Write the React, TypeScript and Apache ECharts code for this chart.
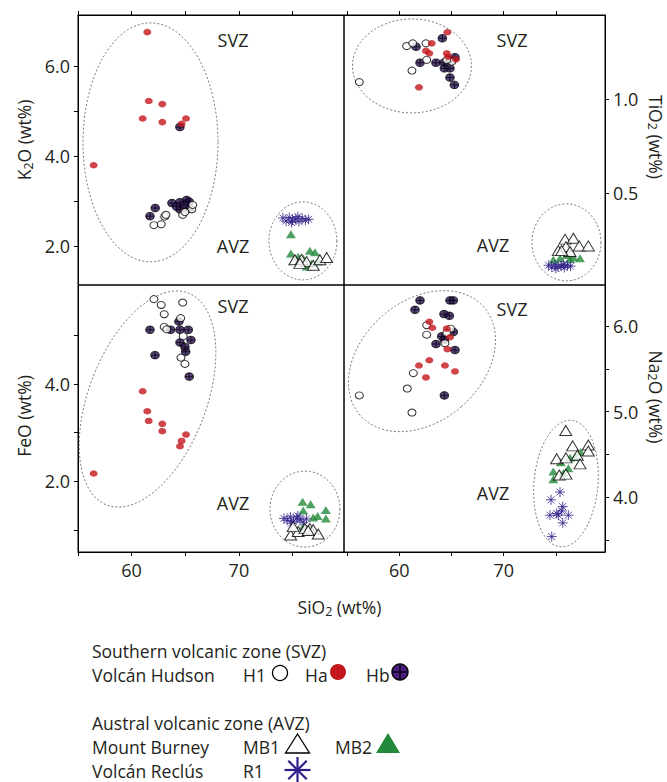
import React, { useEffect, useRef } from 'react';
import * as echarts from 'echarts';

// ---------------- data (SiO2 wt%, oxide wt%) ----------------
// K2O vs SiO2
const k2oH1 = [[62.08, 2.46], [62.76, 2.48], [63.08, 2.65], [63.2, 2.69], [64.76, 2.69], [65.6, 2.81], [64.97, 2.75], [65.69, 2.91]];
const k2oHa = [[61.46, 6.75], [61.6, 5.22], [62.86, 5.15], [61.03, 4.83], [62.86, 4.75], [65.07, 4.83], [64.66, 4.71], [56.46, 3.79]];
const k2oHb = [[64.5, 4.64], [61.71, 2.66], [62.2, 2.84], [63.76, 2.95], [64.5, 2.97], [64.5, 2.81], [65.13, 3.02], [65.37, 2.98], [64.88, 2.91], [65.37, 2.83], [64.2, 2.87]];
const k2oMB1 = [[75.22, 1.69], [75.84, 1.7], [76.31, 1.65], [76.93, 1.57], [77.55, 1.69], [78.18, 1.74], [75.69, 1.61]];
const k2oMB2 = [[74.85, 2.26], [74.85, 1.83], [76.62, 1.89], [77.09, 1.86], [75.53, 1.76], [76.0, 1.72], [76.31, 1.54], [76.78, 1.61], [77.4, 1.65]];
const k2oR1 = [[74.1, 2.62], [74.4, 2.55], [74.7, 2.63], [75.0, 2.57], [75.3, 2.6], [75.6, 2.54], [75.9, 2.61], [76.2, 2.57], [76.5, 2.59], [74.9, 2.52], [75.5, 2.65]];

// TiO2 vs SiO2
const tio2H1 = [[56.17, 1.09], [60.7, 1.282], [61.28, 1.296], [62.55, 1.296], [62.62, 1.208], [61.21, 1.151], [65.02, 1.199], [64.54, 1.208]];
const tio2Ha = [[64.6, 1.355], [63.1, 1.296], [62.55, 1.256], [62.87, 1.243], [64.54, 1.243], [64.69, 1.225], [65.43, 1.211], [61.88, 1.062]];
const tio2Hb = [[61.6, 1.278], [64.12, 1.323], [61.98, 1.193], [63.51, 1.193], [64.28, 1.193], [64.85, 1.208], [65.33, 1.222], [64.31, 1.163], [64.85, 1.163], [64.85, 1.114], [65.27, 1.075]];
const tio2MB1 = [[75.87, 0.254], [76.67, 0.259], [77.24, 0.218], [78.1, 0.218], [75.96, 0.214], [75.23, 0.193], [76.35, 0.188], [75.55, 0.193]];
const tio2MB2 = [[74.75, 0.144], [75.39, 0.153], [76.03, 0.17], [76.67, 0.158], [77.3, 0.153], [76.35, 0.148]];
const tio2R1 = [[74.3, 0.115], [74.6, 0.105], [74.9, 0.118], [75.2, 0.108], [75.5, 0.112], [75.8, 0.103], [76.1, 0.115], [76.4, 0.11], [75.0, 0.098], [75.7, 0.12]];

// FeO vs SiO2
const feoH1 = [[62.08, 5.74], [62.76, 5.62], [64.76, 5.67], [63.04, 5.43], [64.57, 5.35], [63.04, 5.17], [63.27, 5.12], [64.81, 4.98], [64.6, 4.54], [64.97, 4.41]];
const feoHa = [[61.03, 3.85], [61.46, 3.44], [61.59, 3.24], [62.86, 3.18], [62.86, 3.03], [65.07, 2.96], [64.66, 2.83], [64.51, 2.72], [56.46, 2.16]];
const feoHb = [[61.71, 5.11], [63.64, 5.11], [64.41, 5.28], [64.51, 5.11], [65.28, 5.11], [64.51, 4.85], [65.53, 4.9], [64.97, 4.76], [65.04, 4.66], [62.18, 4.59], [65.37, 4.15]];
const feoMB1 = [[74.82, 0.9], [75.53, 0.97], [75.06, 1.07], [76.16, 1.03], [76.62, 1.03], [76.93, 1.01], [77.4, 0.92], [76.46, 0.99]];
const feoMB2 = [[75.94, 1.58], [76.69, 1.53], [76.0, 1.4], [78.11, 1.41], [77.34, 1.29], [78.11, 1.24], [76.93, 1.26], [76.0, 1.07]];
const feoR1 = [[74.2, 1.24], [74.5, 1.2], [74.8, 1.27], [75.1, 1.18], [75.4, 1.25], [75.7, 1.21], [76.0, 1.16], [76.3, 1.23], [74.9, 1.14], [75.5, 1.29]];

// Na2O vs SiO2
const na2oH1 = [[62.62, 6.01], [62.62, 5.9], [64.92, 5.97], [64.54, 5.92], [64.37, 5.8], [61.34, 5.45], [60.76, 5.27], [56.17, 5.19], [61.21, 4.99]];
const na2oHa = [[62.87, 6.05], [63.16, 5.98], [64.54, 5.97], [64.85, 5.87], [64.6, 5.73], [62.87, 5.6], [61.88, 5.54], [64.37, 5.54], [65.33, 5.47], [62.55, 5.4]];
const na2oHb = [[61.98, 6.3], [61.5, 6.19], [64.85, 6.3], [65.17, 6.3], [64.28, 6.14], [64.79, 6.12], [65.17, 5.93], [64.06, 5.88], [64.31, 5.84], [63.51, 5.79], [65.33, 5.72], [64.31, 5.19]];
const na2oMB1 = [[75.94, 4.78], [76.6, 4.6], [78.1, 4.61], [78.1, 4.54], [75.07, 4.45], [75.96, 4.46], [77.05, 4.49], [77.31, 4.39], [75.32, 4.26], [75.96, 4.27]];
const na2oMB2 = [[75.46, 4.41], [76.35, 4.46], [76.83, 4.47], [77.37, 4.53], [74.75, 4.3], [74.75, 4.21], [75.71, 4.28], [76.19, 4.34]];
const na2oR1 = [[75.39, 4.06], [74.53, 3.97], [75.65, 3.89], [75.55, 3.84], [75.07, 3.81], [74.43, 3.79], [76.19, 3.79], [75.65, 3.7], [74.6, 3.54], [75.23, 3.79]];

// zone outlines: [centre SiO2, centre oxide, semi-axis x (px), semi-axis y (px), rotation deg]
const k2oZones = [[61.76, 4.3, 67.5, 119.5, 0], [75.97, 2.11, 34, 39, 0]];
const tio2Zones = [[61.21, 1.176, 59.5, 47, 0], [76.01, 0.237, 34.5, 38.5, 0]];
const feoZones = [[61.48, 3.69, 58.8, 113.6, 21], [76.16, 1.43, 35, 38, 0]];
const na2oZones = [[62.17, 5.59, 60.2, 82.2, 49], [75.96, 4.16, 32, 63.5, 5]];

// axis ticks / labels
const sio2Ticks = [55, 60, 65, 70, 75];
const sio2Labels = [60, 70];
const k2oTicks = [2, 3, 4, 5, 6];
const k2oLabels = [2, 4, 6];
const tio2Ticks = [0.5, 1.0];
const feoTicks = [1, 2, 3, 4, 5];
const feoLabels = [2, 4];
const na2oTicks = [3.5, 4, 4.5, 5, 5.5, 6];
const na2oLabels = [4, 5, 6];

// ---------------- styling ----------------
const FONT = '"Open Sans", Lato, sans-serif';
const INK = '#231f20';
const RED = '#c3161d';
const PURPLE = '#4b1c82';
const HB_FILL = '#2c1358';
const GREEN = '#23893a';
const NAVY = '#2f1f8a';
const HB_PATH = 'path://M0,10A10,10,0,1,1,20,10A10,10,0,1,1,0,10Z M10,0L10,20 M0,10L20,10';
const AST_PATH = 'path://M10,0L10,20M0,10L20,10M3,3L17,17M17,3L3,17';

const styles: Record<string, any> = {
  Hb: { symbol: HB_PATH, symbolSize: [8.5, 7.5], itemStyle: { color: HB_FILL, borderColor: '#000', borderWidth: 0.9 } },
  H1: { symbol: 'circle', symbolSize: [8, 7], itemStyle: { color: '#fff', borderColor: '#000', borderWidth: 1 } },
  Ha: { symbol: 'circle', symbolSize: [8, 6.5], itemStyle: { color: RED, borderWidth: 0 } },
  MB2: { symbol: 'triangle', symbolSize: [10, 8], itemStyle: { color: GREEN, borderWidth: 0 } },
  R1: { symbol: AST_PATH, symbolSize: 10, itemStyle: { color: NAVY, borderColor: NAVY, borderWidth: 1 } },
  MB1: { symbol: 'triangle', symbolSize: [12, 10], itemStyle: { color: '#fff', borderColor: '#000', borderWidth: 1 } },
};

function zoneSeries(idx: number, zones: number[][]) {
  return {
    type: 'custom',
    xAxisIndex: idx,
    yAxisIndex: idx,
    silent: true,
    z: 1,
    dimensions: ['x', 'y', 'rx', 'ry', 'rot'],
    encode: { x: 0, y: 1 },
    data: zones,
    renderItem: (params: any, api: any) => {
      const c = api.coord([api.value(0), api.value(1)]);
      const rx = api.value(2);
      const ry = api.value(3);
      const rot = (api.value(4) * Math.PI) / 180;
      const pts: number[][] = [];
      for (let i = 0; i < 96; i++) {
        const t = (i / 96) * Math.PI * 2;
        const x = rx * Math.cos(t);
        const y = ry * Math.sin(t);
        pts.push([c[0] + x * Math.cos(rot) - y * Math.sin(rot), c[1] + x * Math.sin(rot) + y * Math.cos(rot)]);
      }
      return {
        type: 'polygon',
        shape: { points: pts },
        style: { fill: 'none', stroke: '#7a7a7a', lineWidth: 1, lineDash: [2, 2] },
      };
    },
  };
}

function groupSeries(idx: number, groups: Record<string, number[][]>) {
  const order = ['Hb', 'H1', 'Ha', 'MB2', 'R1', 'MB1'];
  return order.map((k) => ({
    type: 'scatter',
    name: k,
    xAxisIndex: idx,
    yAxisIndex: idx,
    z: 3,
    data: groups[k],
    ...styles[k],
  }));
}

function xAxis(idx: number, min: number, max: number, bottom: boolean) {
  return {
    type: 'value',
    gridIndex: idx,
    min,
    max,
    position: bottom ? 'bottom' : 'top',
    axisLine: { show: true, onZero: false, lineStyle: { color: '#000', width: 1 } },
    axisTick: { show: true, customValues: sio2Ticks, length: 4, inside: false, lineStyle: { color: '#000' } },
    axisLabel: {
      show: bottom,
      customValues: sio2Labels,
      margin: 9,
      fontSize: 18,
      fontFamily: FONT,
      color: INK,
      formatter: (v: number) => String(v),
    },
    splitLine: { show: false },
  };
}

function yAxis(idx: number, min: number, max: number, right: boolean, ticks: number[], labels: number[]) {
  return {
    type: 'value',
    gridIndex: idx,
    min,
    max,
    position: right ? 'right' : 'left',
    axisLine: { show: true, onZero: false, lineStyle: { color: '#000', width: 1 } },
    axisTick: { show: true, customValues: ticks, length: 4, inside: false, lineStyle: { color: '#000' } },
    axisLabel: {
      show: true,
      customValues: labels,
      margin: 8,
      fontSize: 18,
      fontFamily: FONT,
      color: INK,
      formatter: (v: number) => v.toFixed(1),
    },
    splitLine: { show: false },
  };
}

function text(t: string, x: number, y: number, opts: any = {}) {
  return {
    type: 'text',
    x,
    y,
    rotation: opts.rotation || 0,
    silent: true,
    style: {
      text: t,
      fill: INK,
      fontSize: opts.fontSize || 17.5,
      fontFamily: FONT,
      align: opts.align || 'left',
      verticalAlign: 'middle',
      rich: opts.rich,
    },
  };
}

const subRich = {
  n: { fontSize: 17.5, fontFamily: FONT, fill: INK, lineHeight: 21, verticalAlign: 'middle' },
  s: { fontSize: 12.5, fontFamily: FONT, fill: INK, lineHeight: 12, verticalAlign: 'bottom' },
};

function axisTitle(base: string, rest: string, x: number, y: number, rotation: number) {
  return text(`{n|${base}}{s|2}{n|${rest}}`, x, y, { align: 'center', rotation, rich: subRich });
}

function buildOption() {
  const grids = [
    { left: 78, top: 15, width: 266, height: 270 },
    { left: 344, top: 15, width: 261, height: 270 },
    { left: 78, top: 285, width: 266, height: 267 },
    { left: 344, top: 285, width: 261, height: 267 },
  ].map((g) => ({ ...g, show: true, borderColor: '#000', borderWidth: 1, backgroundColor: 'transparent', containLabel: false }));

  const L = 92;
  const legend = [
    text('Southern volcanic zone (SVZ)', L, 651),
    text('Volcán Hudson', L, 675),
    text('H1', 243, 675),
    { type: 'circle', silent: true, shape: { cx: 280, cy: 673, r: 7.5 }, style: { fill: '#fff', stroke: '#000', lineWidth: 1.3 } },
    text('Ha', 305, 675),
    { type: 'circle', silent: true, shape: { cx: 338, cy: 672, r: 8 }, style: { fill: RED, stroke: 'none' } },
    text('Hb', 366, 675),
    { type: 'circle', silent: true, shape: { cx: 400, cy: 672, r: 8 }, style: { fill: PURPLE, stroke: '#000', lineWidth: 1.4 } },
    { type: 'line', silent: true, shape: { x1: 400, y1: 664, x2: 400, y2: 680 }, style: { stroke: '#000', lineWidth: 1.3 } },
    { type: 'line', silent: true, shape: { x1: 392, y1: 672, x2: 408, y2: 672 }, style: { stroke: '#000', lineWidth: 1.3 } },
    text('Austral volcanic zone (AVZ)', L, 723),
    text('Mount Burney', L, 747),
    text('MB1', 243, 747),
    { type: 'polygon', silent: true, shape: { points: [[297.5, 734], [285.5, 753], [309.5, 753]] }, style: { fill: '#fff', stroke: '#000', lineWidth: 1.3 } },
    text('MB2', 335, 747),
    { type: 'polygon', silent: true, shape: { points: [[388, 733], [376, 753], [400, 753]] }, style: { fill: GREEN, stroke: 'none' } },
    text('Volcán Reclús', L, 771),
    text('R1', 243, 771),
    { type: 'line', silent: true, shape: { x1: 297.5, y1: 757, x2: 297.5, y2: 783 }, style: { stroke: NAVY, lineWidth: 2.2 } },
    { type: 'line', silent: true, shape: { x1: 284.5, y1: 770, x2: 310.5, y2: 770 }, style: { stroke: NAVY, lineWidth: 2.2 } },
    { type: 'line', silent: true, shape: { x1: 288.3, y1: 760.8, x2: 306.7, y2: 779.2 }, style: { stroke: NAVY, lineWidth: 2.2 } },
    { type: 'line', silent: true, shape: { x1: 306.7, y1: 760.8, x2: 288.3, y2: 779.2 }, style: { stroke: NAVY, lineWidth: 2.2 } },
  ];

  const zoneLbl = { align: 'center', fontSize: 18 };
  const annotations = [
    text('SVZ', 233, 40, zoneLbl),
    text('AVZ', 233, 246, zoneLbl),
    text('SVZ', 512, 40, zoneLbl),
    text('AVZ', 493, 245, zoneLbl),
    text('SVZ', 233, 306, zoneLbl),
    text('AVZ', 233, 503, zoneLbl),
    text('SVZ', 512, 309, zoneLbl),
    text('AVZ', 493, 493, zoneLbl),
    axisTitle('K', 'O (wt%)', 24, 140, Math.PI / 2),
    axisTitle('TiO', ' (wt%)', 656, 137, -Math.PI / 2),
    text('FeO (wt%)', 24, 416, { align: 'center', rotation: Math.PI / 2 }),
    axisTitle('Na', 'O (wt%)', 656, 397, -Math.PI / 2),
    axisTitle('SiO', ' (wt%)', 339.5, 607, 0),
  ];

  return {
    animation: false,
    backgroundColor: '#fff',
    textStyle: { fontFamily: FONT },
    grid: grids,
    xAxis: [xAxis(0, 55, 79.8, false), xAxis(1, 54.7, 79.7, false), xAxis(2, 55, 79.8, true), xAxis(3, 54.7, 79.7, true)],
    yAxis: [
      yAxis(0, 1.13, 7.13, false, k2oTicks, k2oLabels),
      yAxis(1, 0.01, 1.447, true, tio2Ticks, tio2Ticks),
      yAxis(2, 0.55, 6.03, false, feoTicks, feoLabels),
      yAxis(3, 3.36, 6.48, true, na2oTicks, na2oLabels),
    ],
    series: [
      zoneSeries(0, k2oZones),
      zoneSeries(1, tio2Zones),
      zoneSeries(2, feoZones),
      zoneSeries(3, na2oZones),
      ...groupSeries(0, { H1: k2oH1, Ha: k2oHa, Hb: k2oHb, MB1: k2oMB1, MB2: k2oMB2, R1: k2oR1 }),
      ...groupSeries(1, { H1: tio2H1, Ha: tio2Ha, Hb: tio2Hb, MB1: tio2MB1, MB2: tio2MB2, R1: tio2R1 }),
      ...groupSeries(2, { H1: feoH1, Ha: feoHa, Hb: feoHb, MB1: feoMB1, MB2: feoMB2, R1: feoR1 }),
      ...groupSeries(3, { H1: na2oH1, Ha: na2oHa, Hb: na2oHb, MB1: na2oMB1, MB2: na2oMB2, R1: na2oR1 }),
    ],
    graphic: [...annotations, ...legend],
  };
}

export default function App() {
  const ref = useRef<HTMLDivElement>(null);
  useEffect(() => {
    if (!ref.current) return;
    const chart = echarts.init(ref.current, null, { renderer: 'svg' });
    chart.setOption(buildOption() as any);
    return () => chart.dispose();
  }, []);
  return <div ref={ref} style={{ position: 'fixed', left: 0, top: 0, width: 667, height: 782, background: '#fff' }} />;
}
